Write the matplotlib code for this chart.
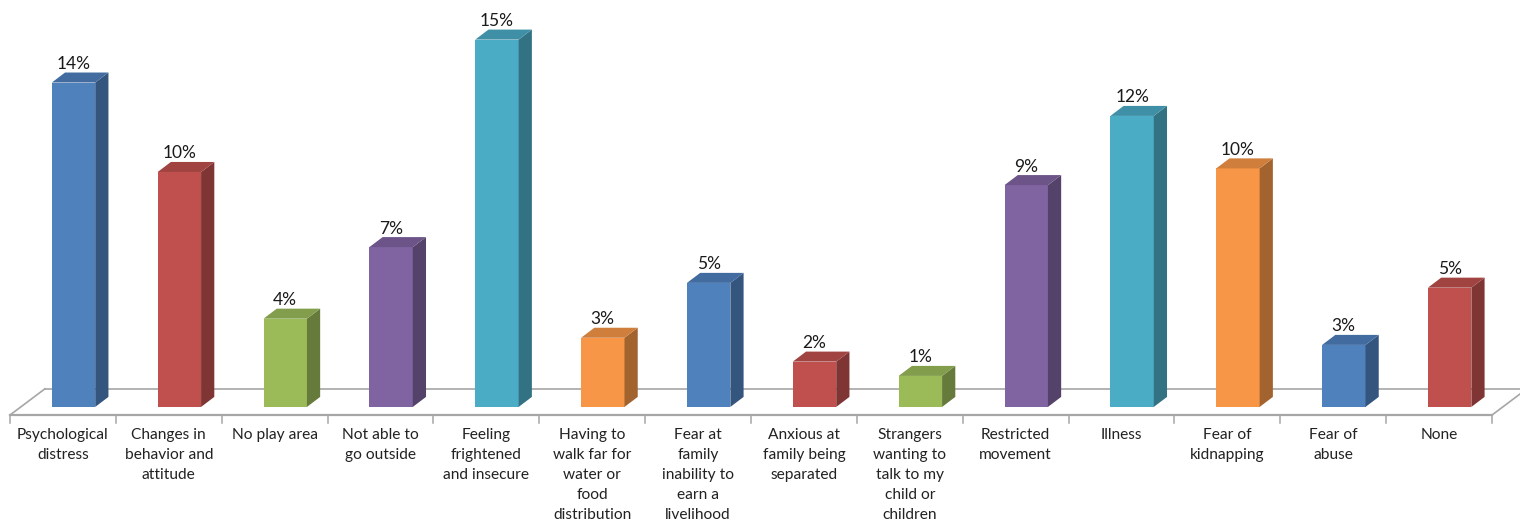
import matplotlib.pyplot as plt
from matplotlib.patches import Polygon
from matplotlib.colors import to_rgb

categories = [
    "Psychological\ndistress",
    "Changes in\nbehavior and\nattitude",
    "No play area",
    "Not able to\ngo outside",
    "Feeling\nfrightened\nand insecure",
    "Having to\nwalk far for\nwater or\nfood\ndistribution",
    "Fear at\nfamily\ninability to\nearn a\nlivelihood",
    "Anxious at\nfamily being\nseparated",
    "Strangers\nwanting to\ntalk to my\nchild or\nchildren",
    "Restricted\nmovement",
    "Illness",
    "Fear of\nkidnapping",
    "Fear of\nabuse",
    "None",
]
values = [13.6, 9.85, 3.7, 6.7, 15.4, 2.9, 5.2, 1.9, 1.3, 9.3, 12.2, 10.0, 2.6, 5.0]
palette = ["#4F81BD", "#C0504D", "#9BBB59", "#8064A2", "#4BACC6", "#F79646"]


def shade(c, f):
    r, g, b = to_rgb(c)
    return (r * f, g * f, b * f)


# 3d look: front face, depth offset in x (categories) and y (percent)
bar_w = 0.41
bar_off = 0.1
dx, dy = 0.125, 0.42
floor_front, floor_back, floor_shift = -0.34, 0.76, 0.33

fig = plt.figure(figsize=(15.2, 5.25), dpi=100)
ax = fig.add_axes([10 / 1520, 0, 1482 / 1520, 1])
ax.set_xlim(-0.5, len(categories) - 0.5)
ax.set_ylim(-4.95, 17.06)
ax.axis("off")

n = len(categories)
grey = "#a6a6a6"
# floor outline
ax.plot([-0.5, n - 0.5], [floor_front, floor_front], color=grey, lw=1.6, clip_on=False, zorder=1)
ax.plot([-0.5 + floor_shift, n - 0.5 + floor_shift], [floor_back, floor_back], color=grey, lw=1.2, clip_on=False, zorder=1)
ax.plot([-0.5, -0.5 + floor_shift], [floor_front, floor_back], color=grey, lw=1.2, clip_on=False, zorder=1)
ax.plot([n - 0.5, n - 0.5 + floor_shift], [floor_front, floor_back], color=grey, lw=1.2, clip_on=False, zorder=1)
for k in range(n + 1):
    ax.plot([k - 0.5, k - 0.5], [floor_front, floor_front - 0.33], color=grey, lw=1.1, clip_on=False, zorder=1)

for i, (cat, v) in enumerate(zip(categories, values)):
    c = palette[i % len(palette)]
    x0 = i + bar_off - bar_w / 2
    x1 = x0 + bar_w
    front = Polygon([(x0, 0), (x1, 0), (x1, v), (x0, v)], closed=True, facecolor=c, edgecolor="none", zorder=3)
    side = Polygon([(x1, 0), (x1 + dx, dy), (x1 + dx, v + dy), (x1, v)], closed=True,
                   facecolor=shade(c, 0.66), edgecolor="none", zorder=3)
    top = Polygon([(x0, v), (x1, v), (x1 + dx, v + dy), (x0 + dx, v + dy)], closed=True,
                  facecolor=shade(c, 0.84), edgecolor="none", zorder=3)
    for p in (front, side, top):
        ax.add_patch(p)
    ax.text(i + bar_off, v + dy + 0.15, f"{round(v)}%", ha="center", va="baseline",
            fontsize=12.5, family="Lato", color="#1a1a1a", zorder=4)
    ax.text(i, -0.88, cat, ha="center", va="top", fontsize=11.2, family="Lato",
            color="#222222", linespacing=1.55, zorder=4)

fig.savefig("out.png", dpi=100)
